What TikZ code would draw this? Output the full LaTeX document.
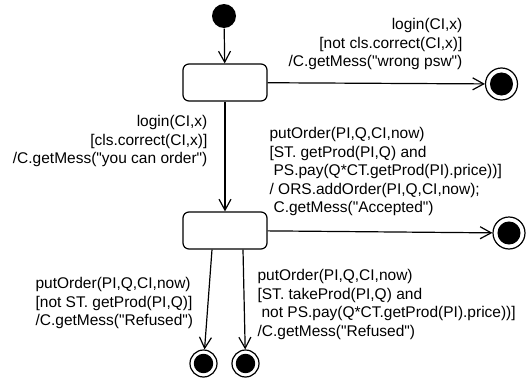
\documentclass[tikz,border=0pt]{standalone}
\usepackage{fontspec}
\setmainfont{Liberation Sans}
\usepackage{tikz}
\usetikzlibrary{arrows.meta}

\begin{document}
\begin{tikzpicture}[x=1pt,y=-1pt,line width=1.2pt,
  >={Straight Barb[length=11pt,width=12pt,line width=1.2pt]},
  init/.style={circle,fill=black,inner sep=0pt,minimum size=24pt},
  state/.style={rectangle,draw,rounded corners=6pt,minimum width=84pt,minimum height=37pt},
  final/.style={circle,draw,inner sep=0pt,minimum size=#1pt,
    path picture={\fill (path picture bounding box.center) circle ({0.36*#1pt});}},
  lab/.style={inner sep=0pt,font=\fontsize{15.5}{18.5}\selectfont}]
\useasboundingbox (0,0) rectangle (531,383);
\node[init] (I) at (224,16) {};
\node[state] (S1) at (225,82.5) {};
\node[state] (S2) at (225,230.5) {};
\node[final=32] (F1) at (501.5,84) {};
\node[final=32] (F2) at (509,233) {};
\node[final=27] (F3) at (203.5,363.5) {};
\node[final=27] (F4) at (245.5,363.5) {};
\node[lab,anchor=north east,align=right] (L1) at (463,18)
  {login(CI,x)\\{}[not cls.correct(CI,x)]\\/C.getMess(\textquotedbl wrong psw\textquotedbl)};
\node[lab,anchor=north east,align=right] (L2) at (208,115)
  {login(CI,x)\\{}[cls.correct(CI,x)]\\/C.getMess(\textquotedbl you can order\textquotedbl)};
\node[lab,anchor=north west,align=left] (L3) at (269,127)
  {putOrder(PI,Q,CI,now)\\{}[ST. getProd(PI,Q) and\\\hspace*{4pt}PS.pay(Q*CT.getProd(PI).price))]\\/ ORS.addOrder(PI,Q,CI,now);\\\hspace*{4pt}C.getMess(\textquotedbl Accepted\textquotedbl)};
\node[lab,anchor=north west,align=left] (L4) at (35,277)
  {putOrder(PI,Q,CI,now)\\{}[not ST. getProd(PI,Q)]\\/C.getMess(\textquotedbl Refused\textquotedbl)};
\node[lab,anchor=north west,align=left] (L5) at (257,269)
  {putOrder(PI,Q,CI,now)\\{}[ST. takeProd(PI,Q) and\\\hspace*{4pt}not PS.pay(Q*CT.getProd(PI).price))]\\/C.getMess(\textquotedbl Refused\textquotedbl)};
\path[->]
(I) edge (S1)
(S1) edge (F1)
     edge (S2)
(S2) edge (F2)
([xshift=-13pt]S2.south) edge (F3)
([xshift=18pt]S2.south) edge (F4);
\end{tikzpicture}
\end{document}
